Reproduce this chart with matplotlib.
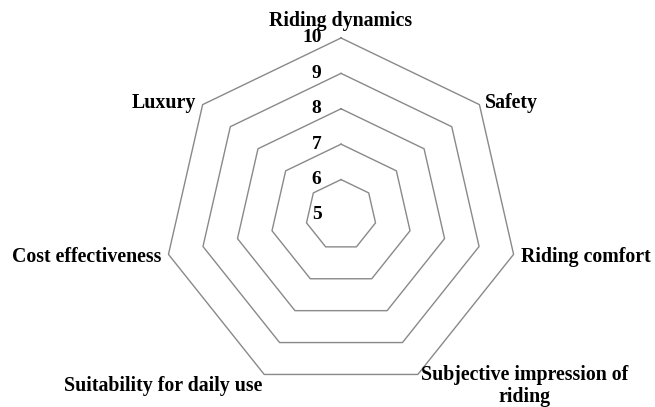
import numpy as np
import matplotlib.pyplot as plt
from matplotlib.transforms import offset_copy

categories = ['Riding dynamics', 'Safety', 'Riding comfort',
              'Subjective impression of\nriding', 'Suitability for daily use',
              'Cost effectiveness', 'Luxury']
levels = [5, 6, 7, 8, 9, 10]
level_labels = ['5', '6', '7', '8', '9', '10']

plt.rcParams['font.family'] = ['Liberation Serif', 'DejaVu Serif']
plt.rcParams['font.weight'] = 'bold'

n = len(categories)
angles = np.pi / 2 - np.arange(n) * 2 * np.pi / n

fig = plt.figure(figsize=(6.55, 4.07), dpi=100)
ax = fig.add_axes([0.2504, 0.0369, 0.5405, 0.8698], projection='polar')
ax.set_ylim(levels[0], levels[-1])
ax.grid(False)
ax.spines['polar'].set_visible(False)
ax.set_xticks([])
ax.set_yticks([])
ax.patch.set_alpha(0)

# heptagon grid
closed = np.append(angles, angles[0])
for lv in levels[1:]:
    ax.plot(closed, [lv] * (n + 1), color='#898989', lw=1.0, clip_on=False)

# radial tick labels, just left of the top spoke
lab_tr = offset_copy(ax.transData, fig=fig, x=-14, y=0, units='points')
for lv, txt in zip(levels, level_labels):
    ax.text(np.pi / 2, lv, txt, transform=lab_tr, ha='right', va='center',
            fontsize=14, fontweight='bold')

# category labels
fs = 14.3
rmax = levels[-1]
def place(i, ha, va, dx, dy, **kw):
    ax.text(angles[i], rmax, categories[i], ha=ha, va=va,
            transform=offset_copy(ax.transData, fig=fig, x=dx, y=dy, units='points'),
            fontsize=fs, fontweight='bold', **kw)

place(0, 'center', 'bottom', 0, 5)
place(1, 'left', 'center', 4, 1)
place(2, 'left', 'center', 5, -2)
place(3, 'left', 'top', 2, 7, multialignment='center', linespacing=1.15)
place(4, 'right', 'top', -1, -1)
place(5, 'right', 'center', -5, -2)
place(6, 'right', 'center', -5, 1)

fig.savefig('out.png', dpi=100)
